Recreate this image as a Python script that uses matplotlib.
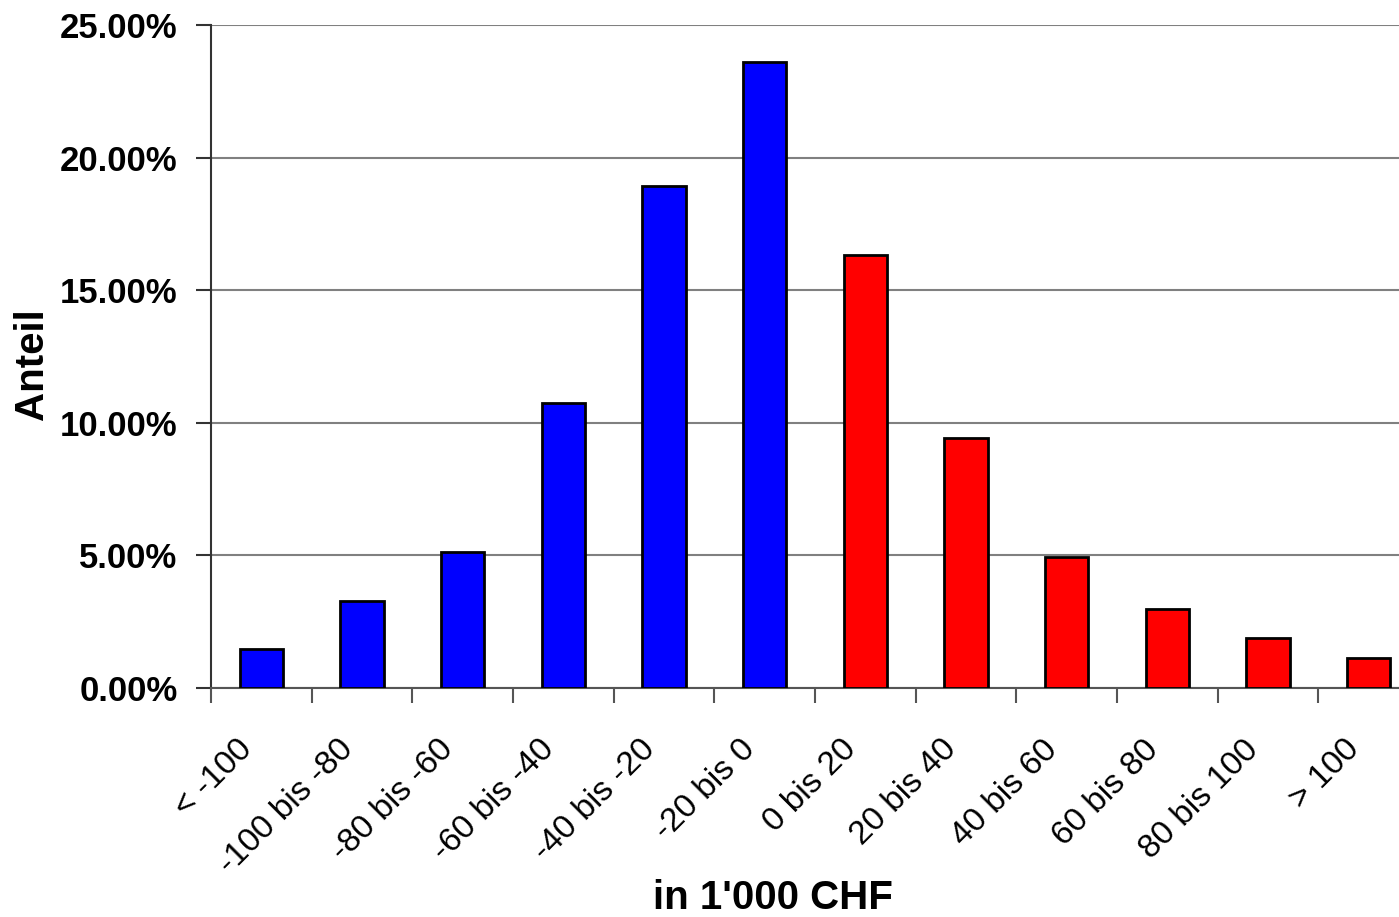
import numpy as np
import matplotlib.pyplot as plt
import matplotlib.transforms as mtransforms
from matplotlib.ticker import FuncFormatter

plt.rcParams['font.family'] = ['Liberation Sans', 'DejaVu Sans']

categories = ['< -100', '-100 bis -80', '-80 bis -60', '-60 bis -40', '-40 bis -20',
              '-20 bis 0', '0 bis 20', '20 bis 40', '40 bis 60', '60 bis 80',
              '80 bis 100', '> 100']
shares = [1.47, 3.28, 5.13, 10.75, 18.93, 23.6, 16.33, 9.43, 4.94, 2.98, 1.89, 1.13]
bar_colors = ['#0000ff'] * 6 + ['#ff0000'] * 6


def main():
    fig = plt.figure(figsize=(13.99, 9.17), dpi=100)
    ax = fig.add_axes([0.1508, 0.2497, 0.8492, 0.723])

    x = np.arange(len(categories))
    ax.bar(x, shares, width=0.43, color=bar_colors, edgecolor='black', linewidth=2, zorder=3)

    ax.set_xlim(-0.5, 11.3)
    ax.set_ylim(0, 25)
    ax.set_yticks(np.arange(0, 26, 5))
    ax.yaxis.set_major_formatter(FuncFormatter(lambda v, p: f'{v:.2f}%'))
    ax.grid(axis='y', color='#808080', linewidth=1.5, zorder=0)

    # category labels at centres, tick marks at the boundaries
    ax.set_xticks(x)
    ax.set_xticklabels(categories, rotation=45, ha='right', rotation_mode='anchor', fontsize=24)
    ax.tick_params(axis='x', which='major', length=0, pad=33)
    shift = mtransforms.ScaledTranslation(-0.25, 0, fig.dpi_scale_trans)
    for lab in ax.get_xticklabels():
        lab.set_transform(lab.get_transform() + shift)
    ax.set_xticks(np.arange(-0.5, 11.5, 1), minor=True)
    ax.tick_params(axis='x', which='minor', length=11, width=1.5, color='#555555')
    ax.tick_params(axis='y', length=11, width=1.5, color='#333333', labelsize=25, pad=13)
    for lab in ax.get_yticklabels():
        lab.set_fontweight('bold')

    for side in ['top', 'right']:
        ax.spines[side].set_visible(False)
    ax.spines['left'].set_color('#333333')
    ax.spines['left'].set_linewidth(1.5)
    ax.spines['bottom'].set_color('#555555')
    ax.spines['bottom'].set_linewidth(1.5)

    fig.text(32 / 1399, 1 - 364 / 917, 'Anteil', rotation=90, ha='center', va='center',
             fontsize=29, fontweight='bold')
    fig.text(773 / 1399, 1 - 898 / 917, "in 1'000 CHF", ha='center', va='center',
             fontsize=29, fontweight='bold')

    fig.savefig('out.png', dpi=100)


if __name__ == "__main__":
    main()
